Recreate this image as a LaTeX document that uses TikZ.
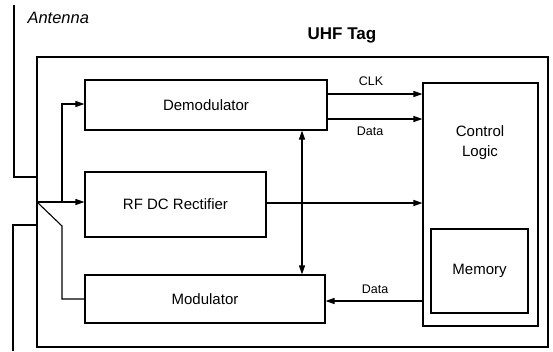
\documentclass[tikz,border=0pt]{standalone}
\usepackage{fontspec}
\setmainfont{Liberation Sans}
\usetikzlibrary{arrows.meta,calc}
\begin{document}
\begin{tikzpicture}[x=1pt,y=-1pt,
  line width=1.1pt,
  box/.style={draw,rectangle,inner sep=0pt,align=center,font=\fontsize{15}{20}\selectfont},
  arr/.style={-{Triangle[length=9pt,width=6pt]}},
  darr/.style={{Triangle[length=9pt,width=6pt]}-{Triangle[length=9pt,width=6pt]}},
  small/.style={inner sep=0pt,font=\fontsize{12.5}{14}\selectfont},
  big/.style={inner sep=0pt,font=\fontsize{15}{20}\selectfont}]
\useasboundingbox (0,0) rectangle (553,351);
% outer tag box
\node[box,minimum width=511pt,minimum height=290pt] (outer) at (292.5,202) {};
\node[inner sep=0pt,font=\fontsize{17}{20}\selectfont\bfseries] (title) at (342,35) {UHF Tag};
\node[inner sep=0pt,anchor=west,font=\fontsize{16.5}{20}\selectfont\itshape] (ant) at (27,18) {Antenna};
% blocks
\node[box,minimum width=242pt,minimum height=50pt] (demod) at (206,105) {Demodulator};
\node[box,minimum width=181pt,minimum height=65pt] (rect) at (175.5,204.5) {RF DC Rectifier};
\node[box,minimum width=240pt,minimum height=48pt] (mod) at (205,299) {Modulator};
\node[box,minimum width=115pt,minimum height=243pt] (ctrl) at (480.5,204.5) {};
\node[big,align=center] (ctrltext) at (480,143) {Control\\Logic};
\node[box,minimum width=97pt,minimum height=84pt] (mem) at (479.5,271) {Memory};
% antenna
\coordinate (at1) at (14,5);
\coordinate (at2) at (37,177);
\coordinate (ab1) at (37,225);
\coordinate (ab2) at (13,351);
\draw (at1) |- (at2);
\draw (ab1) -| (ab2);
% feed network
\coordinate (j1) at (37,202);
\coordinate (j2) at (62,202);
\coordinate (j3) at (62,226);
\draw[arr] (j1) -- (j1 -| rect.west);
\draw[arr] (j2) |- ($(demod.west)+(0,-1)$);
\draw (j1) -- (j3) |- (mod.west);
% signals to control logic
\coordinate (clk) at (327,94);
\coordinate (dat) at (327,119);
\draw[arr] (clk) -- (clk -| ctrl.west);
\draw[arr] (dat) -- (dat -| ctrl.west);
\draw[arr] ($(rect.east)+(0,-1.5)$) -- ($(rect.east -| ctrl.west)+(0,-1.5)$);
\node[small] (lclk) at (371,81) {CLK};
\node[small] (ldat) at (370,131) {Data};
% vertical link
\coordinate (vx) at (302,0);
\draw[darr] (demod.south -| vx) -- (mod.north -| vx);
% data back to modulator
\coordinate (db) at (423,301);
\draw[arr] (db) -- (db -| mod.east);
\node[small] (ldat2) at (375,289.5) {Data};
\end{tikzpicture}
\end{document}
